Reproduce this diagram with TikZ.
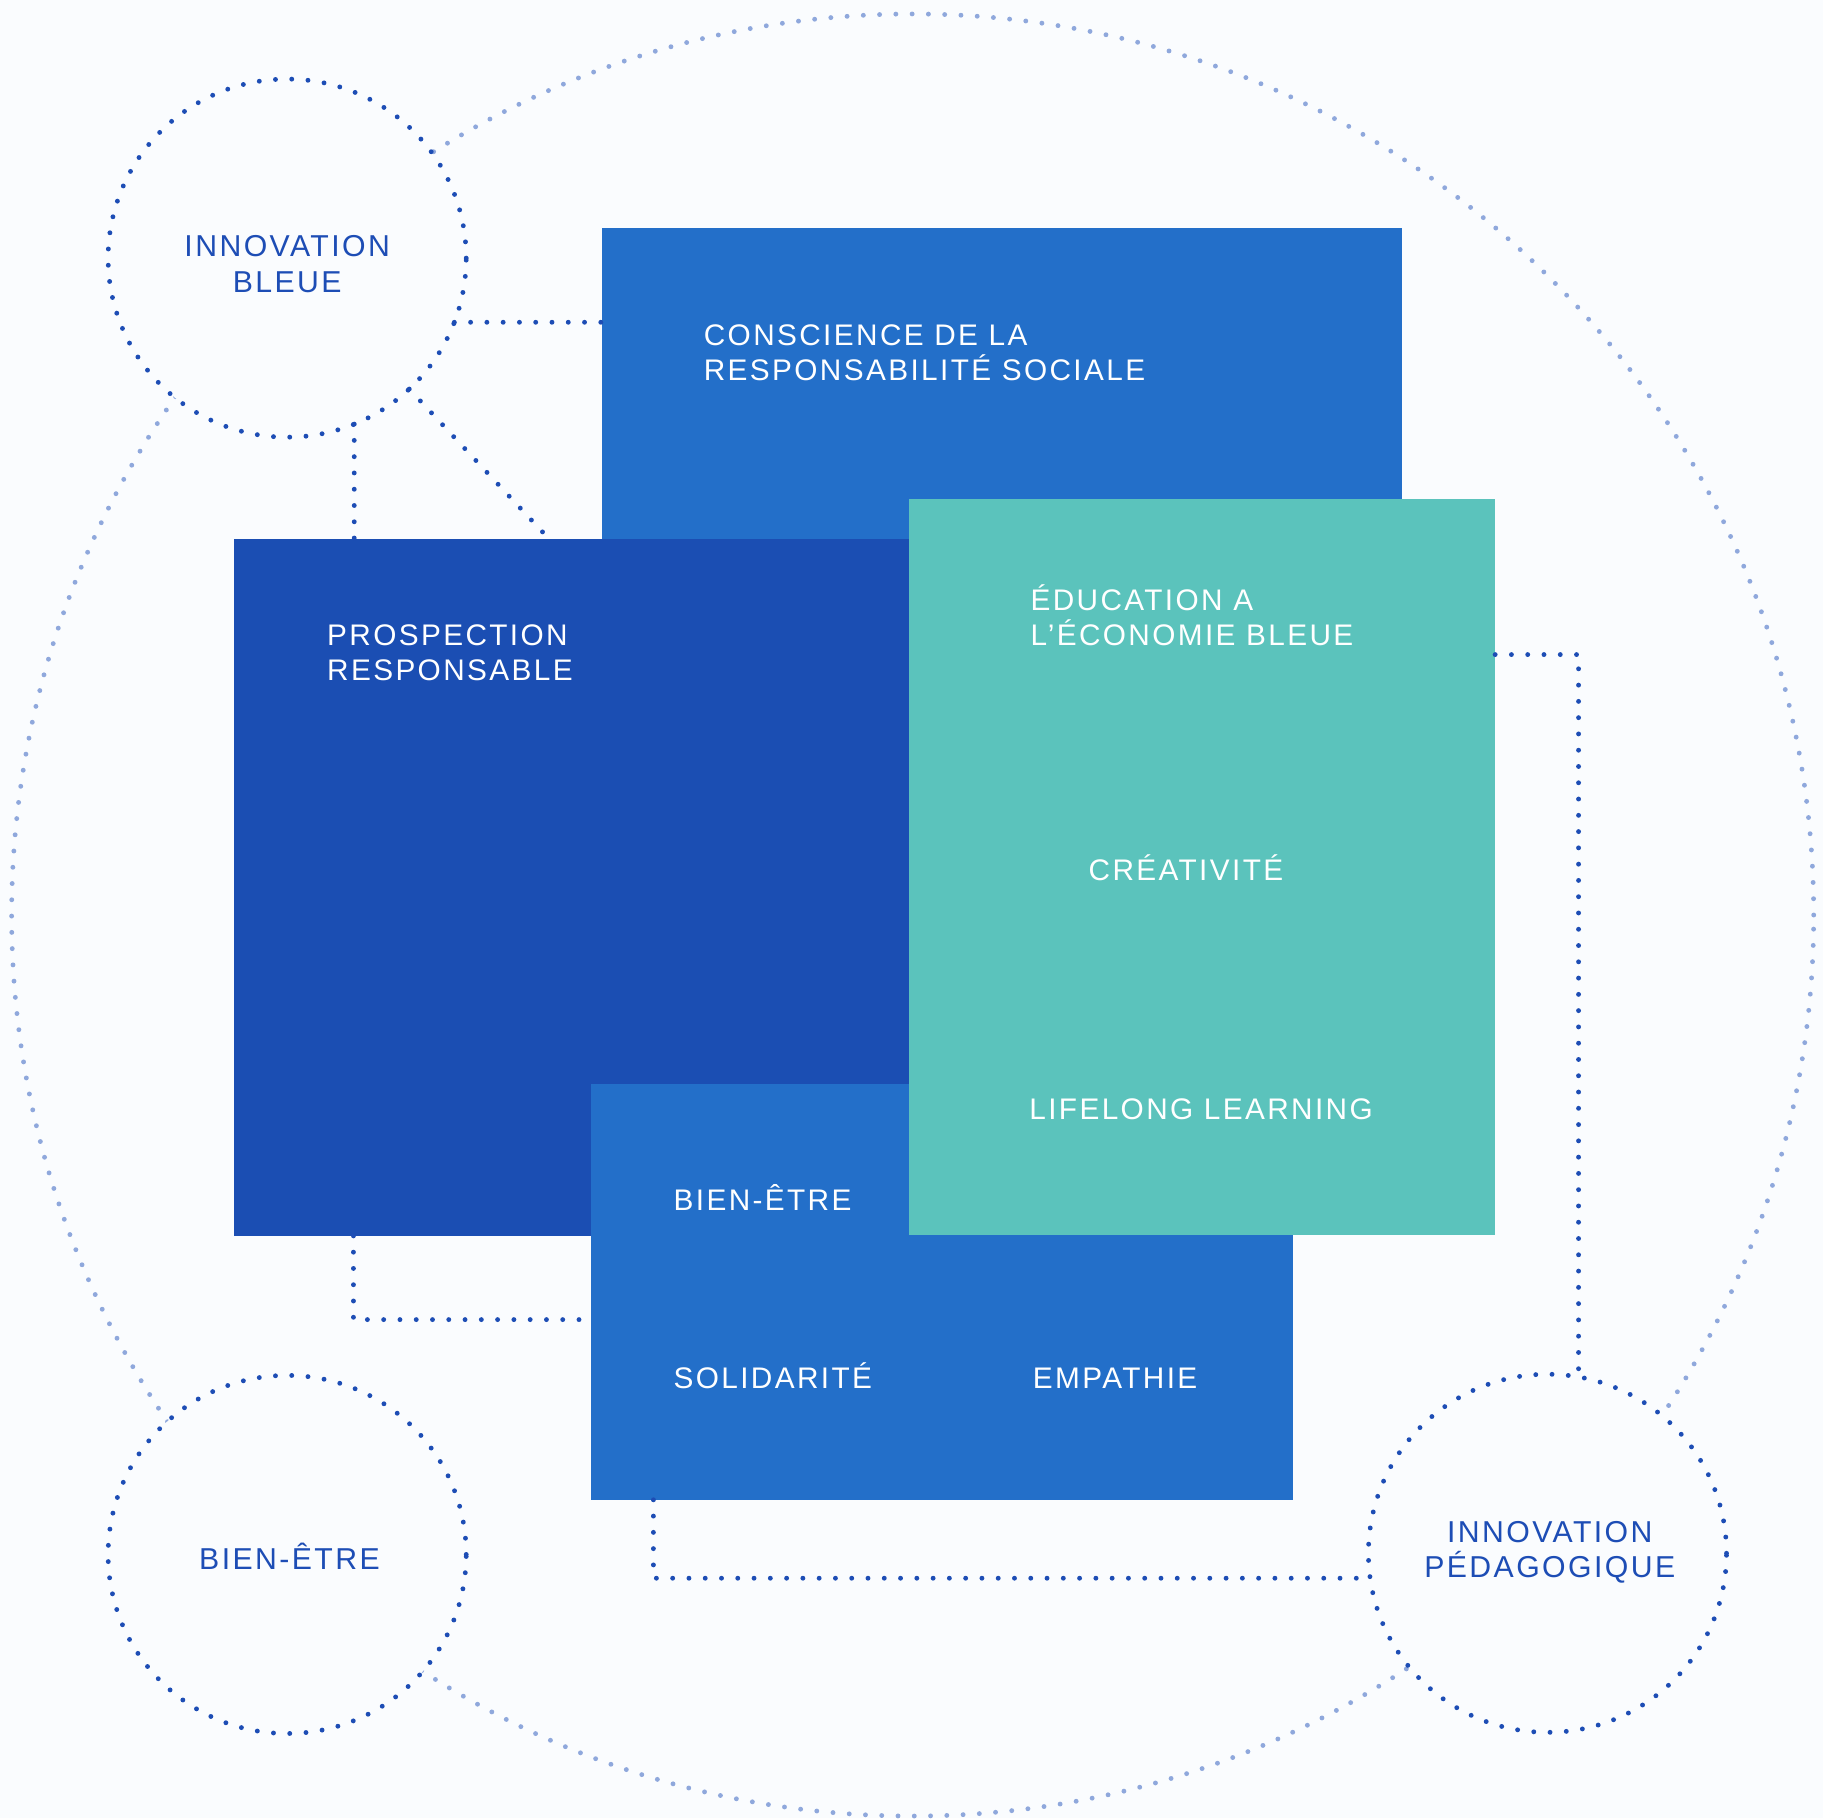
\documentclass[tikz,border=0pt]{standalone}
\usepackage{fontspec}
\setmainfont{Liberation Sans}[LetterSpace=8]
\definecolor{bgc}{HTML}{FAFCFE}
\definecolor{midblue}{HTML}{236FC9}
\definecolor{darkblue}{HTML}{1B4EB3}
\definecolor{tealc}{HTML}{5BC3BC}
\definecolor{lightdotc}{HTML}{8FA8DC}
\definecolor{dotc}{HTML}{1D4DB5}
\tikzset{
  darkdot/.style={draw=dotc, line width=2.1pt, line cap=round, dash pattern=on 0pt off 7pt},
  lightdot/.style={draw=lightdotc, line width=2.1pt, line cap=round, dash pattern=on 0pt off 7pt},
  ringnode/.style={circle, minimum size=154pt, inner sep=0pt, outer sep=0pt, fill=bgc, darkdot,
     text=dotc, align=center, font=\fontsize{13}{15.25}\selectfont},
  block/.style={rectangle, inner sep=0pt, outer sep=0pt, anchor=north west},
  lbl/.style={anchor=base west, inner sep=0pt, text=white, align=left, font=\fontsize{12.8}{15.25}\selectfont}
}
\begin{document}
\begin{tikzpicture}[x=0.5pt,y=-0.5pt]
\fill[bgc] (0,0) rectangle (1568,1564);
\useasboundingbox (0,0) rectangle (1568,1564);
% big ring
\node[circle, minimum size=775pt, inner sep=0pt, lightdot] (big) at (785,787) {};
% blocks
\node[block, fill=midblue, minimum width=344pt, minimum height=182pt] (cons) at (518,196) {};
\node[block, fill=darkblue, minimum width=300pt, minimum height=299.5pt] (pros) at (201,464) {};
\node[block, fill=midblue, minimum width=302pt, minimum height=179pt] (bwr) at (508,932) {};
\node[block, fill=tealc, minimum width=252pt, minimum height=316.5pt] (edu) at (782,429) {};
% rings
\node[ringnode] (ib) at (247,222) {};
\node[ringnode] (be) at (247,1337) {};
\node[ringnode] (ip) at (1331,1336) {};
\node[text=dotc, align=center, inner sep=0pt, font=\fontsize{13}{15.25}\selectfont] (tib) at (247,227) {INNOVATION\\BLEUE};
\node[text=dotc, align=center, inner sep=0pt, font=\fontsize{13}{15.25}\selectfont] (tbe) at (249,1339) {BIEN-ÊTRE};
\node[text=dotc, align=center, inner sep=0pt, font=\fontsize{13}{15.25}\selectfont] (tip) at (1333,1335) {INNOVATION\\PÉDAGOGIQUE};
% connectors
\coordinate (p4) at (304,1063);
\coordinate (q4) at (508,1135);
\coordinate (p5) at (562,1290);
\coordinate (p6) at (1286,563);
\draw[darkdot] (ib.-21.3) -- (ib.-21.3 -| cons.west);
\draw[darkdot] (ib.-68.3) -- (ib.-68.3 |- pros.north);
\draw[darkdot] (ib.-47) -- (intersection of ib.center--ib.-47 and pros.north west--pros.north east);
\draw[darkdot] (p4) |- (q4);
\draw[darkdot] (p5) |- (ip.188.6);
\draw[darkdot] (p6) -| (ip.80.3);
% labels (multi-line: base = last line)
\node[lbl] (tcons) at (605,327.5) {CONSCIENCE DE LA\\RESPONSABILITÉ SOCIALE};
\node[lbl] (tpros) at (281,585.5) {PROSPECTION\\RESPONSABLE};
\node[lbl] (tedu) at (886,555.5) {ÉDUCATION A\\L’ÉCONOMIE BLEUE};
\node[lbl] (tcrea) at (936,757) {CRÉATIVITÉ};
\node[lbl] (tlife) at (885,963) {LIFELONG LEARNING};
\node[lbl] (tbien) at (579,1041) {BIEN-ÊTRE};
\node[lbl] (tsoli) at (579,1194) {SOLIDARITÉ};
\node[lbl] (temp) at (888,1194) {EMPATHIE};
\end{tikzpicture}
\end{document}
